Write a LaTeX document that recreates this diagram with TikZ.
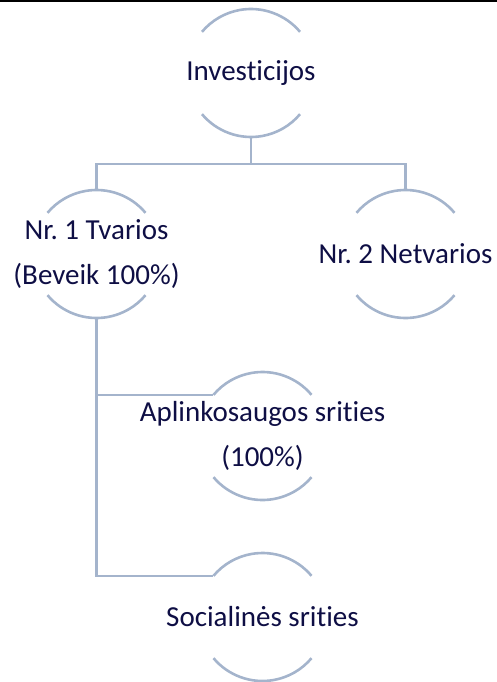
\documentclass[tikz,border=0pt]{standalone}
\usepackage{fontspec}
\setmainfont{Carlito}[Ligatures=NoCommon]
\definecolor{linec}{RGB}{164,180,204}
\definecolor{textc}{RGB}{14,14,68}
\begin{document}
\frenchspacing
\begin{tikzpicture}[x=1pt,y=1pt,
  bubble/.style={circle,minimum size=128pt,inner sep=0pt,outer sep=0pt},
  lbl/.style={align=center,text=textc,inner sep=0pt,font=\fontsize{29}{45}\selectfont},
  conn/.style={draw=linec,line width=2.6pt},
  arcs/.style={draw=linec,line width=2.6pt}]
\useasboundingbox (0,0) rectangle (497,-682);
\fill[black] (0,0) rectangle (497,-2.3);
\node[bubble] (inv) at (251,-73) {};
\node[bubble] (t1) at (96.5,-254) {};
\node[bubble] (t2) at (405.5,-254) {};
\node[bubble] (a) at (262.5,-436) {};
\node[bubble] (s) at (262.5,-617) {};
\node[lbl] (invt) at (inv) {Investicijos};
\node[lbl] (t1t) at (t1) {Nr. 1 Tvarios\\(Beveik 100\%)};
\node[lbl] (t2t) at (t2) {Nr. 2 Netvarios};
\node[lbl] (at) at (a) {Aplinkosaugos srities\\(100\%)};
\node[lbl] (st) at (s) {Socialinės srities};
\foreach \n in {inv,t1,t2,a,s}{
  \draw[arcs] (\n.40) arc[start angle=40,end angle=140,radius=64];
  \draw[arcs] (\n.220) arc[start angle=220,end angle=320,radius=64];
}
\draw[conn] (inv.south) -- ++(0,-27) coordinate (bus) -| (t1.north);
\draw[conn] (bus) -| (t2.north);
\draw[conn] (t1.south) |- (a.140);
\draw[conn] (t1.south) |- (s.140);
\end{tikzpicture}
\end{document}
